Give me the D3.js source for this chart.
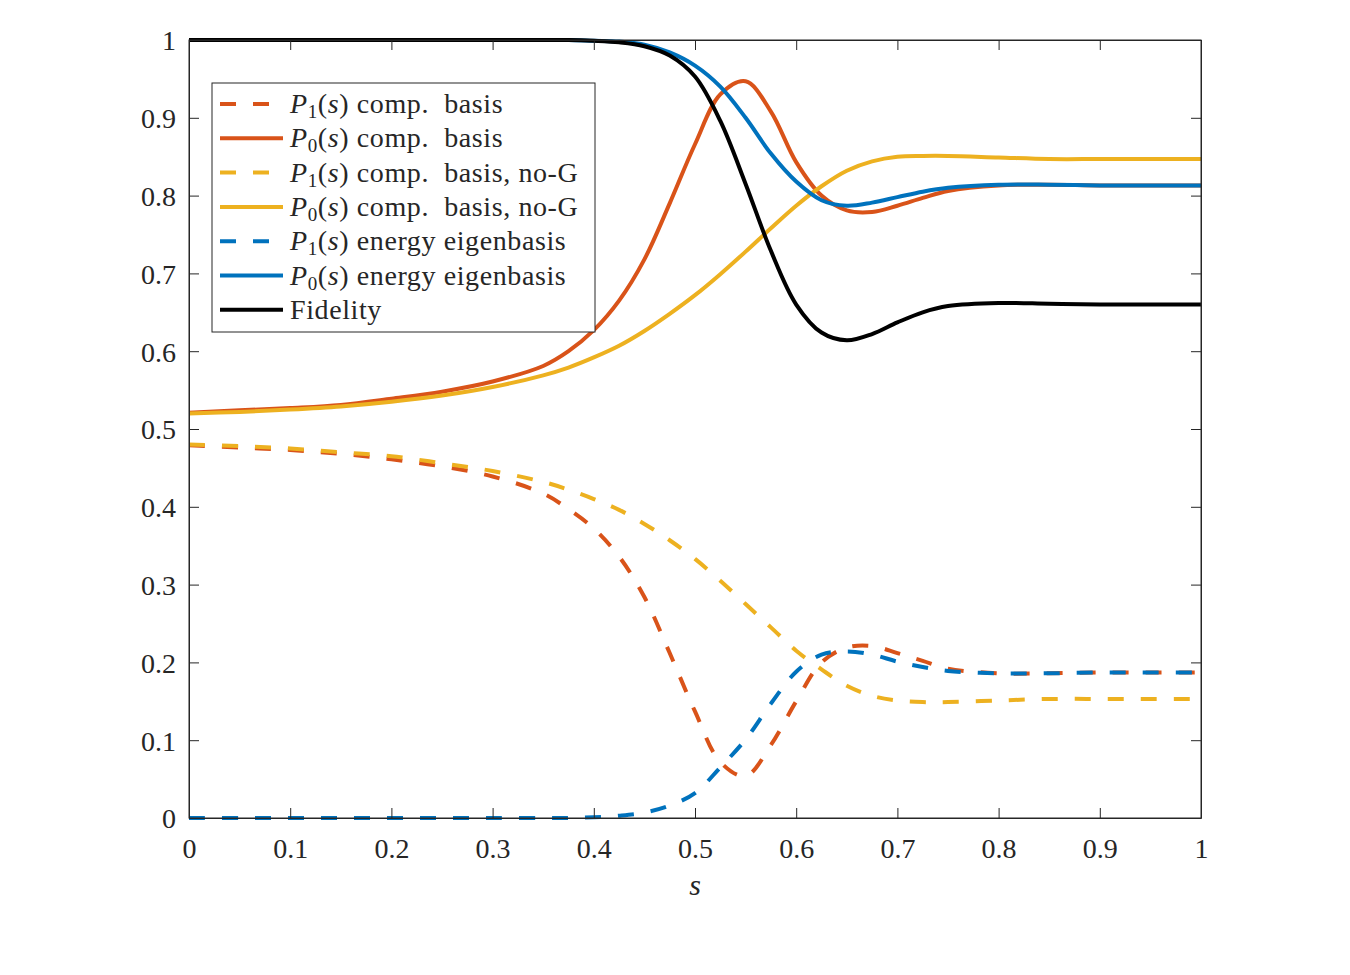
<!DOCTYPE html>
<html>
<head>
<meta charset="utf-8">
<script src="https://cdn.jsdelivr.net/npm/d3@7"></script>
<style>
  body { margin: 0; background: #fff; }
  svg text { font-family: "Liberation Serif", "Times New Roman", serif; fill: #262626; }
</style>
</head>
<body>
<svg id="chart" width="1350" height="975"></svg>
<script>
// s grid and values
const sValues = [0, 0.05, 0.1, 0.15, 0.2, 0.25, 0.3, 0.35, 0.375, 0.4, 0.425, 0.45, 0.475, 0.5, 0.525,
                 0.55, 0.575, 0.6, 0.625, 0.65, 0.675, 0.7, 0.725, 0.75, 0.8, 0.85, 0.9, 0.95, 1];

const p1Comp = [0.479, 0.476, 0.473, 0.468, 0.461, 0.452, 0.439, 0.417, 0.397, 0.372, 0.336, 0.284, 0.212, 0.137, 0.072,
                0.054, 0.094, 0.150, 0.200, 0.219, 0.221, 0.212, 0.202, 0.192, 0.186, 0.186, 0.187, 0.187, 0.187];
const p0Comp = [0.521, 0.524, 0.527, 0.531, 0.539, 0.548, 0.561, 0.581, 0.600, 0.627, 0.665, 0.718, 0.790, 0.866, 0.930,
                0.947, 0.908, 0.843, 0.800, 0.781, 0.779, 0.787, 0.797, 0.806, 0.813, 0.814, 0.813, 0.813, 0.813];
const p1NoG = [0.480, 0.478, 0.475, 0.470, 0.465, 0.456, 0.446, 0.432, 0.422, 0.410, 0.396, 0.378, 0.357, 0.333, 0.305,
               0.275, 0.245, 0.215, 0.191, 0.170, 0.157, 0.151, 0.149, 0.149, 0.151, 0.153, 0.153, 0.153, 0.153];
const p0NoG = [0.520, 0.522, 0.525, 0.529, 0.535, 0.543, 0.554, 0.569, 0.579, 0.592, 0.607, 0.626, 0.648, 0.672, 0.699,
               0.728, 0.758, 0.787, 0.812, 0.832, 0.844, 0.850, 0.851, 0.851, 0.849, 0.847, 0.847, 0.847, 0.847];
const p1Energy = [0, 0, 0, 0, 0, 0, 0, 0, 0, 0.001, 0.003, 0.007, 0.016, 0.032, 0.065,
                  0.101, 0.147, 0.188, 0.210, 0.214, 0.210, 0.201, 0.194, 0.189, 0.186, 0.186, 0.187, 0.187, 0.187];
const p0Energy = [1, 1, 1, 1, 1, 1, 1, 1, 1, 0.999, 0.998, 0.994, 0.984, 0.967, 0.940,
                  0.900, 0.854, 0.818, 0.794, 0.787, 0.791, 0.798, 0.805, 0.810, 0.814, 0.814, 0.813, 0.813, 0.813];
const fidelity = [1, 1, 1, 1, 1, 1, 1, 1, 1, 0.999, 0.997, 0.992, 0.980, 0.953, 0.896,
                  0.815, 0.729, 0.660, 0.624, 0.614, 0.622, 0.637, 0.650, 0.658, 0.662, 0.661, 0.660, 0.660, 0.660];

const xTicks = [0, 0.1, 0.2, 0.3, 0.4, 0.5, 0.6, 0.7, 0.8, 0.9, 1];
const yTicks = [0, 0.1, 0.2, 0.3, 0.4, 0.5, 0.6, 0.7, 0.8, 0.9, 1];

const legendSubs = ["1", "0", "1", "0", "1", "0", null];
const legendTexts = ["comp.  basis", "comp.  basis", "comp.  basis, no-G", "comp.  basis, no-G",
                     "energy eigenbasis", "energy eigenbasis", "Fidelity"];

const series = [
  { values: p1Comp, color: "#D95319", dashed: true },
  { values: p0Comp, color: "#D95319", dashed: false },
  { values: p1NoG, color: "#EDB120", dashed: true },
  { values: p0NoG, color: "#EDB120", dashed: false },
  { values: p1Energy, color: "#0072BD", dashed: true },
  { values: p0Energy, color: "#0072BD", dashed: false },
  { values: fidelity, color: "#000000", dashed: false }
];

const svg = d3.select("#chart");
const mLeft = 189, mRight = 1201, mTop = 40, mBottom = 818;

const x = d3.scaleLinear().domain([0, 1]).range([mLeft, mRight]);
const y = d3.scaleLinear().domain([0, 1]).range([mBottom, mTop]);

const axisColor = "#262626";
const fmt = d => d === 0 || d === 1 ? String(d) : d.toFixed(1);

// curves
const line = d3.line()
  .x((d, i) => x(sValues[i]))
  .y(d => y(d))
  .curve(d3.curveCatmullRom.alpha(0.5));

const plot = svg.append("g");
plot.append("defs").append("clipPath").attr("id", "clip")
  .append("rect").attr("x", mLeft).attr("y", mTop - 3).attr("width", mRight - mLeft).attr("height", mBottom - mTop + 6);

plot.append("g").attr("clip-path", "url(#clip)")
  .selectAll("path")
  .data(series)
  .enter().append("path")
  .attr("d", d => line(d.values))
  .attr("fill", "none")
  .attr("stroke", d => d.color)
  .attr("stroke-width", 4)
  .attr("stroke-dasharray", d => d.dashed ? "16,17" : null);

// axes, ticks pointing inward
const gx = svg.append("g").attr("transform", `translate(0,${mBottom})`)
  .call(d3.axisBottom(x).tickValues(xTicks).tickFormat(fmt).tickSizeInner(-10).tickSizeOuter(0));
gx.selectAll("text").attr("y", 40).attr("dy", null).style("font-size", "28px");

svg.append("g").attr("transform", `translate(0,${mTop})`)
  .call(d3.axisTop(x).tickValues(xTicks).tickFormat("").tickSizeInner(-10).tickSizeOuter(0));

const gy = svg.append("g").attr("transform", `translate(${mLeft},0)`)
  .call(d3.axisLeft(y).tickValues(yTicks).tickFormat(fmt).tickSizeInner(-10).tickSizeOuter(0));
gy.selectAll("text").attr("x", -13).attr("dy", "0.35em").style("font-size", "28px");

svg.append("g").attr("transform", `translate(${mRight},0)`)
  .call(d3.axisRight(y).tickValues(yTicks).tickFormat("").tickSizeInner(-10).tickSizeOuter(0));

svg.selectAll(".domain").attr("stroke", axisColor);
svg.selectAll(".tick line").attr("stroke", axisColor);
svg.selectAll(".tick text").attr("fill", axisColor).style("font-family", '"Liberation Serif", "Times New Roman", serif');

svg.append("rect")
  .attr("x", mLeft).attr("y", mTop)
  .attr("width", mRight - mLeft).attr("height", mBottom - mTop)
  .attr("fill", "none").attr("stroke", axisColor).attr("stroke-width", 1);

// x label
svg.append("text")
  .attr("x", x(0.5)).attr("y", 895)
  .attr("text-anchor", "middle")
  .style("font-size", "30px").style("font-style", "italic")
  .text("s");

// legend
const lg = svg.append("g");
lg.append("rect")
  .attr("x", 212).attr("y", 83).attr("width", 383).attr("height", 249)
  .attr("fill", "#fff").attr("stroke", axisColor).attr("stroke-width", 1);

const rowY = i => 104 + i * 34.3;
series.forEach((d, i) => {
  lg.append("line")
    .attr("x1", 220).attr("x2", 283)
    .attr("y1", rowY(i)).attr("y2", rowY(i))
    .attr("stroke", d.color).attr("stroke-width", 4)
    .attr("stroke-dasharray", d.dashed ? "16,17" : null);

  const t = lg.append("text")
    .attr("x", 290).attr("y", rowY(i) + 9)
    .style("font-size", "28px").style("letter-spacing", "0.6px").style("white-space", "pre");
  if (legendSubs[i] !== null) {
    t.append("tspan").style("font-style", "italic").text("P");
    t.append("tspan").attr("dy", 5).style("font-size", "19px").text(legendSubs[i]);
    t.append("tspan").attr("dy", -5).text("(");
    t.append("tspan").style("font-style", "italic").text("s");
    t.append("tspan").text(") " + legendTexts[i]);
  } else {
    t.text(legendTexts[i]);
  }
});
</script>
</body>
</html>
